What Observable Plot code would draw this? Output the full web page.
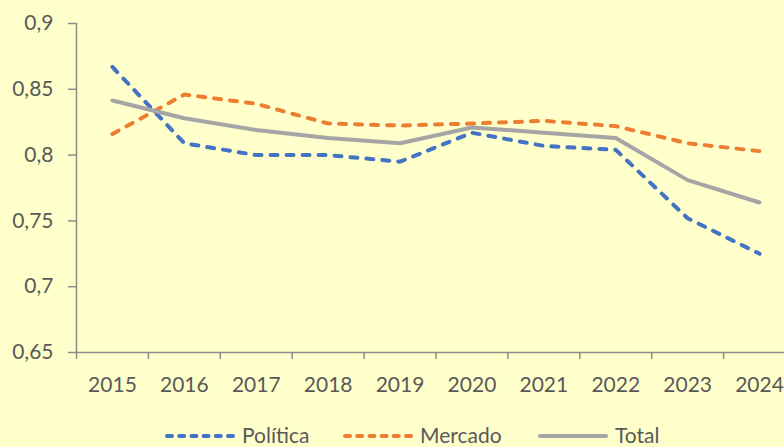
<!DOCTYPE html>
<html>
<head>
<meta charset="utf-8">
<script src="https://cdn.jsdelivr.net/npm/d3@7"></script>
<script src="https://cdn.jsdelivr.net/npm/@observablehq/plot@0.6"></script>
<style>
  html, body { margin: 0; padding: 0; background: #FFFFCC; overflow: hidden; }
  body { width: 784px; height: 447px; position: relative; font-family: Lato, sans-serif; color: #595959; }
  #legend { position: absolute; left: 0; top: 424px; height: 21px; width: 784px; }
  .item { position: absolute; top: 0; display: flex; align-items: flex-start; height: 21px; }
  .item span { font-size: 21px; line-height: 21px; margin-left: 7px; white-space: nowrap; }
</style>
</head>
<body>
<div id="chart"></div>
<div id="legend"></div>
<script>
const years = [2015, 2016, 2017, 2018, 2019, 2020, 2021, 2022, 2023, 2024];
const politica = [0.867, 0.809, 0.800, 0.800, 0.795, 0.817, 0.807, 0.804, 0.752, 0.725];
const mercado  = [0.816, 0.846, 0.839, 0.824, 0.8225, 0.824, 0.826, 0.822, 0.809, 0.803];
const total    = [0.8415, 0.828, 0.819, 0.813, 0.809, 0.821, 0.817, 0.813, 0.781, 0.764];
const seriesNames = ["Política", "Mercado", "Total"];
const yTicks = [0.65, 0.7, 0.75, 0.8, 0.85, 0.9];

const colors = {"Política": "#4472C4", "Mercado": "#ED7D31", "Total": "#A5A5A5"};
const dashes = {"Política": "7,9", "Mercado": "7,9", "Total": null};
const legendDashes = {"Política": "5,7.2", "Mercado": "5,7.2", "Total": null};

const seriesValues = [politica, mercado, total];
const rows = [];
seriesNames.forEach((s, k) => years.forEach((yr, i) => rows.push({series: s, year: yr, value: seriesValues[k][i]})));

const boundaries = years.map(y => y - 0.5);
const axisColor = "#8c8c8c";

const lineMarks = seriesNames.map(s => Plot.line(rows.filter(r => r.series === s), {
  x: "year", y: "value",
  stroke: colors[s], strokeWidth: 4,
  strokeDasharray: dashes[s] || undefined,
  strokeLinecap: "round", strokeLinejoin: "round"
}));

const chart = Plot.plot({
  width: 784,
  height: 420,
  marginTop: 23,
  marginLeft: 76,
  marginRight: 0,
  marginBottom: 68,
  style: {background: "#FFFFCC", fontFamily: "Lato, sans-serif", fontSize: "21px", color: "#595959", overflow: "hidden"},
  x: {type: "linear", domain: [years[0] - 0.5, years[years.length - 1] + 0.5], range: [76, 795], label: null},
  y: {domain: [0.65, 0.9], label: null},
  marks: [
    Plot.axisY({ticks: yTicks, tickSize: 8, tickPadding: 15, stroke: axisColor, strokeWidth: 1.5, fill: "#595959",
      tickFormat: d => String(+d.toFixed(2)).replace(".", ","), label: null}),
    Plot.axisX({ticks: years, tickSize: 0, tickPadding: 25, fill: "#595959", tickFormat: d => String(d), label: null}),
    Plot.axisX({ticks: boundaries, tickSize: 7, stroke: axisColor, strokeWidth: 1.5, tickFormat: () => "", label: null}),
    Plot.ruleY([yTicks[0]], {stroke: axisColor, strokeWidth: 1.5}),
    Plot.ruleX([boundaries[0]], {stroke: axisColor, strokeWidth: 1.5}),
    ...lineMarks
  ]
});
document.getElementById("chart").appendChild(chart);

// Legend
const legend = document.getElementById("legend");
const lefts = [165, 343, 538];
seriesNames.forEach((s, k) => {
  const item = document.createElement("div");
  item.className = "item";
  item.style.left = lefts[k] + "px";
  const svg = document.createElementNS("http://www.w3.org/2000/svg", "svg");
  svg.setAttribute("width", 70);
  svg.setAttribute("height", 21);
  const ln = document.createElementNS("http://www.w3.org/2000/svg", "line");
  ln.setAttribute("x1", 2); ln.setAttribute("x2", 68);
  ln.setAttribute("y1", 12); ln.setAttribute("y2", 12);
  ln.setAttribute("stroke", colors[s]);
  ln.setAttribute("stroke-width", 4);
  ln.setAttribute("stroke-linecap", "round");
  if (legendDashes[s]) ln.setAttribute("stroke-dasharray", legendDashes[s]);
  svg.appendChild(ln);
  const span = document.createElement("span");
  span.textContent = s;
  item.appendChild(svg);
  item.appendChild(span);
  legend.appendChild(item);
});
</script>
</body>
</html>
